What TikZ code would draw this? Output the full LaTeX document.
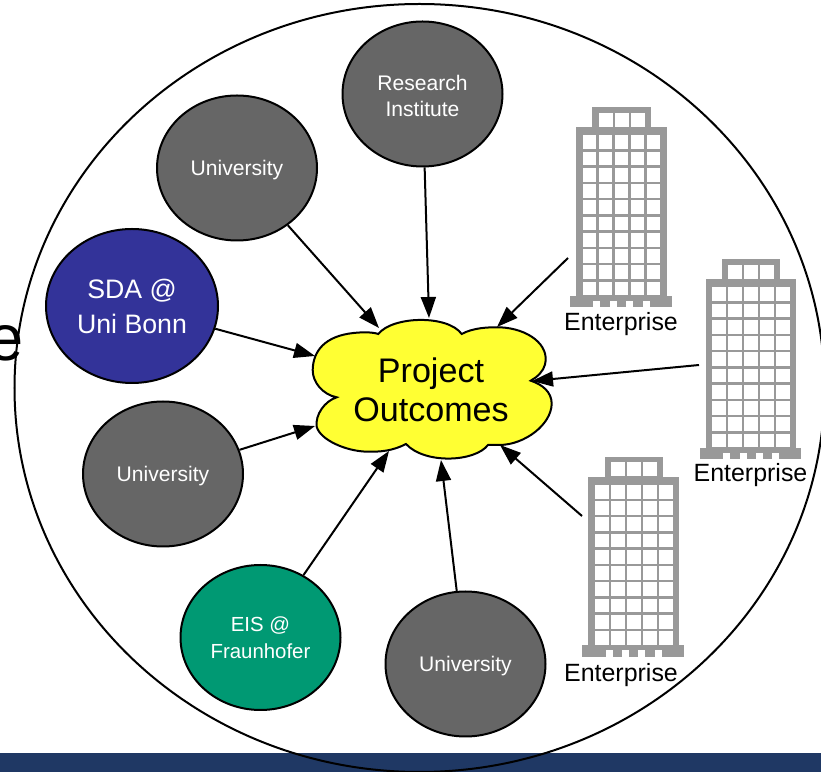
\documentclass[tikz,border=0pt]{standalone}
\usepackage{fontspec}
\setmainfont{Liberation Sans}
\usetikzlibrary{arrows.meta,shapes.geometric}

\definecolor{towergray}{HTML}{999999}
\definecolor{orggray}{HTML}{666666}
\definecolor{sdablue}{HTML}{333399}
\definecolor{eisgreen}{HTML}{009973}
\definecolor{cloudyellow}{HTML}{FFFF33}
\definecolor{barblue}{HTML}{1F3864}

\tikzset{
	org/.style={draw=black,ellipse,line width=0.04cm,fill=orggray,text=white,align=center,inner sep=0pt,
		minimum width=3.2cm,minimum height=2.9cm,font=\fontsize{12}{14.8}\selectfont},
	grayorg/.style={org,execute at begin node={\rule{0pt}{11pt}}},
	link/.style={->,line width=0.04cm},
	enterprise/.style={font=\fontsize{14.2}{17}\selectfont,inner sep=0pt},
	tower/.pic={
		\fill[towergray] (0,0) rectangle (2.03,0.23);
		\fill[towergray] (0.12,0.23) rectangle (1.93,3.6);
		\fill[towergray] (0.446,3.6) rectangle (1.614,4);
		\foreach \x in {0.467,0.8,1.12,1.453}{
			\fill[white] (\x,0) rectangle ({\x+0.14},0.133);
		}
		\foreach \x in {0,...,4}{
			\foreach \y in {0,...,9}{
				\fill[white] ({0.258+0.32*\x},{0.238+0.325*\y}) rectangle ++(0.27,0.275);
			}
		}
		\foreach \x in {0,1,2}{
			\fill[white] ({0.572+0.32*\x},3.615) rectangle ++(0.28,0.28);
		}
	}
}

\begin{document}
\begin{tikzpicture}[>={Triangle[length=0.42cm,width=0.3cm]}]

\useasboundingbox (0,0) rectangle (16.42,15.44);

\node (cutoff) at (0.49,8.22) [anchor=base east,inner sep=0pt,font=\fontsize{37}{40}\selectfont] {e};

\fill[color=barblue] (0,0) rectangle (16.42,0.38);
\draw[line width=0.04cm] (8.39,7.68) ellipse [x radius=8.1,y radius=7.68];

\fill[color=cloudyellow,draw=black,line width=0.04cm] (7.566,8.76)
	.. controls (7.85,9.12) and (8.95,9.15) .. (9.234,8.76)
	.. controls (9.45,8.88) and (9.75,8.9) .. (10,8.894)
	.. controls (10.55,8.87) and (11,8.55) .. (10.9,8.15)
	.. controls (10.87,8.02) and (10.75,7.9) .. (10.614,7.826)
	.. controls (10.85,7.75) and (11.03,7.6) .. (11.034,7.37)
	.. controls (11.03,6.95) and (10.5,6.55) .. (10,6.54)
	.. controls (9.92,6.54) and (9.84,6.54) .. (9.76,6.54)
	.. controls (9.5,6.2) and (8.5,6.15) .. (8.12,6.56)
	.. controls (7.85,6.42) and (7.6,6.4) .. (7.334,6.406)
	.. controls (6.9,6.42) and (6.4,6.65) .. (6.334,6.906)
	.. controls (6.3,7.15) and (6.5,7.42) .. (6.734,7.494)
	.. controls (6.45,7.55) and (6.25,7.8) .. (6.254,8.04)
	.. controls (6.26,8.42) and (6.5,8.72) .. (7.07,8.78)
	.. controls (7.25,8.8) and (7.45,8.8) .. cycle;
\node (outcomes) at (8.62,7.65) [align=center,inner sep=0pt,font=\fontsize{19.4}{22.3}\selectfont] {Project\\Outcomes};

\node[org] (research) at (8.45,13.56) {\rule{0pt}{11.5pt}Research\\Institute};
\node[grayorg] (uni1) at (4.74,12.08) {University};
\node[org,fill=sdablue,minimum width=3.44cm,minimum height=3.08cm,font=\fontsize{15.2}{19.9}\selectfont] (sda) at (2.64,9.32) {SDA @\\Uni Bonn};
\node[grayorg] (uni2) at (3.26,5.96) {University};
\node[org,fill=eisgreen,font=\fontsize{11.6}{15.4}\selectfont] (eis) at (5.21,2.69) {EIS @\\Fraunhofer};
\node[grayorg] (uni3) at (9.31,2.16) {University};

\pic at (11.4,9.294) {tower};
\pic at (13.99,6.254) {tower};
\pic at (11.646,2.306) {tower};

\node[enterprise] (ent1) at (12.42,8.95) {Enterprise};
\node[enterprise] (ent2) at (15.01,5.93) {Enterprise};
\node[enterprise] (ent3) at (12.42,1.93) {Enterprise};

\coordinate (tipresearch) at (8.58,9.08);
\coordinate (tipuni1) at (7.58,8.88);
\coordinate (tipsda) at (6.3,8.32);
\coordinate (tipuni2) at (6.3,6.92);
\coordinate (tipeis) at (7.78,6.42);
\coordinate (tipuni3) at (8.82,6.24);
\coordinate (tipent1) at (9.94,8.9);
\coordinate (tipent2) at (10.64,7.82);
\coordinate (tipent3) at (10,6.54);
\coordinate (froment1) at (11.36,10.28);
\coordinate (froment2) at (13.98,8.14);
\coordinate (froment3) at (11.64,5.12);

\foreach \org in {research,uni1,sda,uni2,eis,uni3}{
	\draw[link] (\org) -- (tip\org);
}
\foreach \i in {1,2,3}{
	\draw[link] (froment\i) -- (tipent\i);
}

\end{tikzpicture}
\end{document}
